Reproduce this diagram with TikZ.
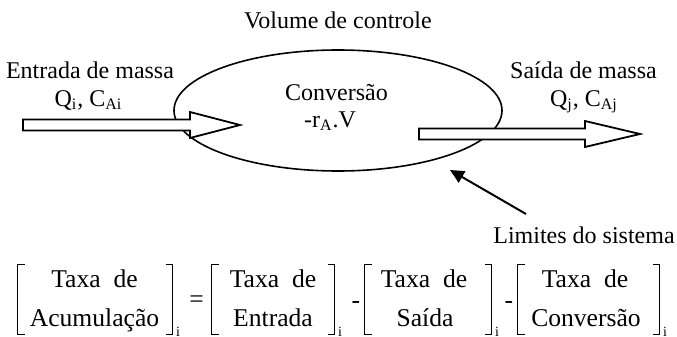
\documentclass[tikz,border=0pt]{standalone}
\usepackage{fontspec}
\setmainfont{Liberation Serif}
\usetikzlibrary{shapes.geometric,arrows.meta}
% brackets of one term: left x, right x, name of the index node
\newcommand{\colchetes}[3]{%
  \draw[colchete] (#1+7,265) -- (#1,265) -- (#1,335) -- (#1+7,335);
  \draw[colchete] (#2-7,265) -- (#2,265) -- (#2,335) -- (#2-7,335);
  \node[indice] (#3) at (#2+5,336) {i};
}

\begin{document}
\begin{tikzpicture}[x=0.5pt, y=-0.5pt,
  rotulo/.style={anchor=base, inner sep=0pt, font=\fontsize{12}{14}\selectfont},
  termo/.style={anchor=base, inner sep=0pt, font=\fontsize{12.8}{15}\selectfont},
  indice/.style={anchor=base, inner sep=0pt, font=\fontsize{7}{8}\selectfont},
  bloco/.style={draw, fill=white, line width=0.9pt, line join=miter},
  colchete/.style={line width=0.5pt}]

\useasboundingbox (0,0) rectangle (677,337);

% control volume
\node[draw, ellipse, line width=0.8pt, inner sep=0pt,
  minimum width=328pt/2, minimum height=121pt/2] (volume) at (338,110.5) {};
\node[rotulo] (volctl) at (338,28) {Volume de controle};
\node[rotulo] (conv) at (336.5,100) {Conversão};
\node[rotulo] (reacao) at (330,127) {-r\textsubscript{A}.V};

% mass in and out
\draw[bloco] (23,119.5) -- (190,119.5) -- (190,112) -- (240,125)
  -- (190,138) -- (190,130.5) -- (23,130.5) -- cycle;
\node[rotulo] (entrada) at (90,78) {Entrada de massa};
\node[rotulo] (qi) at (88.5,106) {Q\textsubscript{i}, C\textsubscript{Ai}};

\draw[bloco] (419,128.5) -- (585,128.5) -- (585,121) -- (640,134)
  -- (585,147) -- (585,139.5) -- (419,139.5) -- cycle;
\node[rotulo] (saida) at (583.5,78) {Saída de massa};
\node[rotulo] (qj) at (584,106) {Q\textsubscript{j}, C\textsubscript{Aj}};

% system limits
\node[rotulo] (limites) at (584,243) {Limites do sistema};
\coordinate (cauda) at (526,214);
\coordinate (ponta) at (450,170);
\draw[line width=1pt, -{Triangle[length=7pt,width=6.5pt]}] (cauda) -- (ponta);

% balance
\node[termo] (acum1) at (94.5,287) {Taxa\ \ de};
\node[termo] (acum2) at (94.5,327) {Acumulação};
\colchetes{18}{173}{iacum}
\node[termo] (igual) at (196.5,307) {=};

\node[termo] (ent1) at (273,287) {Taxa\ \ de};
\node[termo] (ent2) at (273,327) {Entrada};
\colchetes{212}{335}{ient}
\node[termo] (menos1) at (356,308) {-};

\node[termo] (sai1) at (424,287) {Taxa\ \ de};
\node[termo] (sai2) at (425,327) {Saída};
\colchetes{365}{492}{isai}
\node[termo] (menos2) at (509,308) {-};

\node[termo] (conv1) at (585,287) {Taxa\ \ de};
\node[termo] (conv2) at (586,327) {Conversão};
\colchetes{518}{660}{iconv}

\end{tikzpicture}
\end{document}
